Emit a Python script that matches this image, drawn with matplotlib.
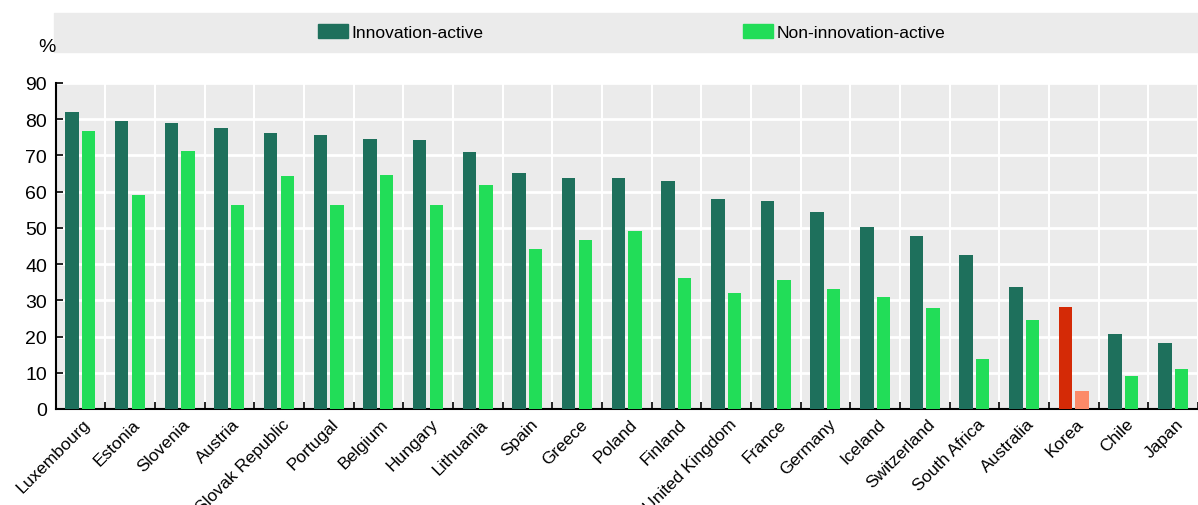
import numpy as np
import matplotlib
matplotlib.use('Agg')
from matplotlib import pyplot as plt
from matplotlib.patches import Rectangle, Patch

countries = ['Luxembourg', 'Estonia', 'Slovenia', 'Austria', 'Slovak Republic', 'Portugal',
             'Belgium', 'Hungary', 'Lithuania', 'Spain', 'Greece', 'Poland', 'Finland',
             'United Kingdom', 'France', 'Germany', 'Iceland', 'Switzerland', 'South Africa',
             'Australia', 'Korea', 'Chile', 'Japan']
innov = [82.1, 79.5, 78.9, 77.7, 76.1, 75.7, 74.5, 74.4, 71.0, 65.1, 63.9, 63.8, 63.0,
         58.0, 57.5, 54.3, 50.2, 47.8, 42.4, 33.6, 28.1, 20.6, 18.1]
non_innov = [76.8, 59.1, 71.2, 56.3, 64.2, 56.3, 64.6, 56.4, 61.9, 44.1, 46.6, 49.1, 36.1,
             31.9, 35.5, 33.2, 31.0, 28.0, 13.8, 24.5, 5.1, 9.1, 11.0]

DARK = '#1e705c'
LIGHT = '#22dd58'
KOREA_DARK = '#d42a06'
KOREA_LIGHT = '#fc8a68'

plt.rcParams['font.family'] = ['Liberation Sans', 'DejaVu Sans']

fig = plt.figure(figsize=(11.98, 5.06), dpi=100)
ax = fig.add_axes([55.5 / 1198, 1 - 410 / 506, 1 - 55.5 / 1198, (410 - 84) / 506])
ax.set_facecolor('#ebebeb')

x = np.arange(len(countries))
w = 0.27
dark_cols = [KOREA_DARK if c == 'Korea' else DARK for c in countries]
light_cols = [KOREA_LIGHT if c == 'Korea' else LIGHT for c in countries]
ax.bar(x - 0.167, innov, w, color=dark_cols, zorder=3)
ax.bar(x + 0.167, non_innov, w, color=light_cols, zorder=3)

ax.set_xlim(-0.5, -0.5 + (1198 - 55.5) / 50.2)
ax.set_ylim(0, 90)
ax.set_yticks(np.arange(0, 91, 10))
ax.set_xticks(x + 0.05)
ax.set_xticklabels(countries, rotation=45, ha='right', rotation_mode='anchor', fontsize=12.5)
ax.set_xticks(np.arange(-0.5, len(countries), 1), minor=True)
ax.tick_params(axis='x', which='major', length=0, pad=5)
ax.tick_params(axis='x', which='minor', direction='in', length=5, width=1.2)
ax.tick_params(axis='y', direction='in', length=5, width=1.2, labelsize=14, pad=6)

ax.grid(axis='y', color='white', linewidth=2, zorder=1)
ax.grid(axis='x', which='minor', color='white', linewidth=1.5, zorder=1)
ax.set_axisbelow(True)
for s in ['top', 'right']:
    ax.spines[s].set_visible(False)
ax.spines['left'].set_linewidth(1.5)
ax.spines['bottom'].set_linewidth(1.5)

# legend band
fig.patches.append(Rectangle((54 / 1198, 1 - 53 / 506), 1, 39 / 506,
                             transform=fig.transFigure, color='#ebebeb', zorder=0))
handles = [Patch(color=DARK, label='Innovation-active'),
           Patch(color=LIGHT, label='Non-innovation-active')]
fig.legend(handles=handles, ncol=2, frameon=False, fontsize=12.5,
           loc='center left', bbox_to_anchor=(318 / 1198, 1 - 33 / 506),
           borderpad=0, borderaxespad=0, handlelength=1.75, handleheight=0.85,
           handletextpad=0.2, columnspacing=14.9)
fig.text(38 / 1198, 1 - 47 / 506, '%', fontsize=14, va='center')

plt.savefig('out.png', dpi=100)
